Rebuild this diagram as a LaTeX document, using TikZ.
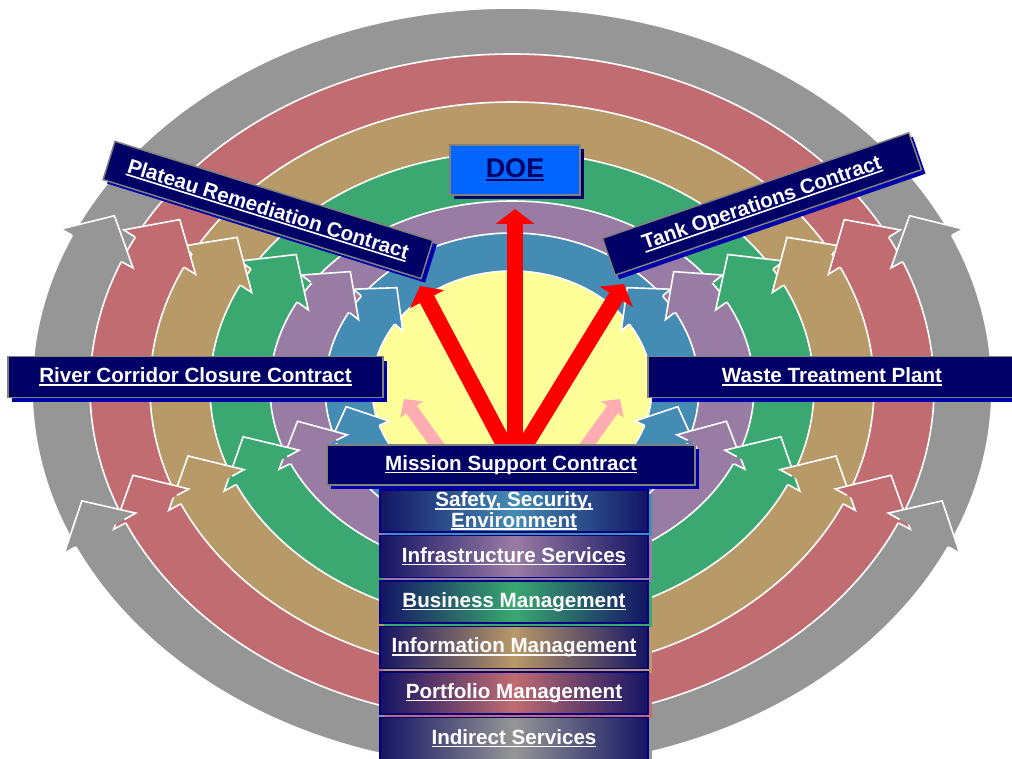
\documentclass[tikz,border=0pt]{standalone}
\usepackage{fontspec}
\setmainfont{Liberation Sans}
\usetikzlibrary{arrows.meta,shadows}
\definecolor{cgray}{RGB}{150,150,150}
\definecolor{cred}{RGB}{192,108,113}
\definecolor{ctan}{RGB}{184,153,104}
\definecolor{cgreen}{RGB}{58,168,112}
\definecolor{cpurple}{RGB}{153,124,163}
\definecolor{cblue}{RGB}{68,140,180}
\definecolor{cyellow}{RGB}{255,255,153}
\definecolor{navy}{RGB}{0,0,102}
\definecolor{navyg}{RGB}{20,20,100}
\definecolor{navyline}{RGB}{0,0,128}
\definecolor{shadowblue}{RGB}{0,0,170}
\definecolor{doeblue}{RGB}{0,102,255}
\definecolor{bordergray}{RGB}{128,128,128}
\definecolor{pinkc}{RGB}{255,172,178}
\newcommand{\ulin}[1]{\setbox0=\hbox{#1}\rlap{\copy0}\rule[-3pt]{\wd0}{1.6pt}}
\newcommand{\rhead}[7]{%
  \pgfmathsetmacro\rhA{(#2+#4)/2}%
  \pgfmathsetmacro\rhB{(#3+#5)/2}%
  \pgfmathsetmacro\rhPx{512+\rhA*cos(#6)}%
  \pgfmathsetmacro\rhPy{388-\rhB*sin(#6)}%
  \pgfmathsetmacro\rhTx{-(#7)*\rhA/100*sin(#6)}%
  \pgfmathsetmacro\rhTy{-(#7)*\rhB/100*cos(#6)}%
  \pgfmathsetmacro\rhL{veclen(\rhTx,\rhTy)}%
  \pgfmathsetmacro\rhUx{\rhTx/\rhL}%
  \pgfmathsetmacro\rhUy{\rhTy/\rhL}%
  \pgfmathsetmacro\rhW{veclen((#2-#4)*cos(#6),(#3-#5)*sin(#6))}%
  \coordinate (hT) at ({\rhPx+0.66*\rhW*\rhUx},{\rhPy+0.66*\rhW*\rhUy});
  \coordinate (hB1) at ({\rhPx-0.73*\rhW*\rhUy},{\rhPy+0.73*\rhW*\rhUx});
  \coordinate (hB2) at ({\rhPx+0.73*\rhW*\rhUy},{\rhPy-0.73*\rhW*\rhUx});
  \coordinate (hE1) at ({\rhPx-0.5*\rhW*\rhUy},{\rhPy+0.5*\rhW*\rhUx});
  \coordinate (hE2) at ({\rhPx+0.5*\rhW*\rhUy},{\rhPy-0.5*\rhW*\rhUx});
  \fill[#1] (hE1) -- (hB1) -- (hT) -- (hB2) -- (hE2) -- cycle;
  \draw[ringline, line join=miter] (hE1) -- (hB1) -- (hT) -- (hB2) -- (hE2);
}
\begin{document}
\begin{tikzpicture}[x=1pt,y=-1pt,
  ringline/.style={draw=white, line width=1.6pt},
  basebox/.style={inner sep=0pt, font=\bfseries\fontsize{20.6}{18}\selectfont, text=white, align=center},
  navybox/.style={basebox, fill=navy, draw=bordergray, line width=1.5pt, minimum height=41pt,
    drop shadow={shadow xshift=4pt, shadow yshift=-4pt, fill=shadowblue, opacity=1}},
  stackbox/.style={basebox, draw=navyline, line width=1.2pt, left color=navyg, right color=navyg, middle color=#1,
    minimum width=268pt, minimum height=42pt,
    drop shadow={shadow xshift=4pt, shadow yshift=-4pt, fill=#1, opacity=1}},
  redarrow/.style={draw=red, line width=16pt, -{Triangle[width=38pt,length=15pt]}},
  pinkarrow/.style={draw=pinkc, line width=13pt, -{Triangle[width=27pt,length=13pt]}}
]
\useasboundingbox (0,0) rectangle (1012,759);
% rings
\foreach \c/\a/\b in {cgray/480/380, cred/422/334, ctan/362/286, cgreen/302/236, cpurple/242/187, cblue/187/155, cyellow/140/117}
  \filldraw[fill=\c, ringline] (512,388) ellipse [x radius=\a, y radius=\b];
% arrow heads of the rings
\foreach \c/\ao/\bo/\ai/\bi/\tul/\tur/\tll/\tlr in {
  cblue/187/155/140/117/145/35/200/340,
  cpurple/242/187/187/155/148/32/202/338,
  cgreen/302/236/242/187/151/29/203/337,
  ctan/362/286/302/236/153/27/203/337,
  cred/422/334/362/286/154/26/203/337,
  cgray/480/380/422/334/157/23/204/336}
{
  \rhead{\c}{\ao}{\bo}{\ai}{\bi}{\tul}{-1}
  \rhead{\c}{\ao}{\bo}{\ai}{\bi}{\tur}{1}
  \rhead{\c}{\ao}{\bo}{\ai}{\bi}{\tll}{-1}
  \rhead{\c}{\ao}{\bo}{\ai}{\bi}{\tlr}{1}
}
% arrows from mission support
\coordinate (pL0) at (442,452);
\coordinate (pL1) at (404,399);
\coordinate (pR0) at (582,452);
\coordinate (pR1) at (620,399);
\draw[pinkarrow] (pL0) -- (pL1);
\draw[pinkarrow] (pR0) -- (pR1);
\coordinate (aL0) at (508,452);
\coordinate (aL1) at (420,286);
\coordinate (aC0) at (515,452);
\coordinate (aC1) at (515,209);
\coordinate (aR0) at (521,452);
\coordinate (aR1) at (624,284);
\draw[redarrow] (aL0) -- (aL1);
\draw[redarrow] (aR0) -- (aR1);
\draw[redarrow] (aC0) -- (aC1);
% boxes
\node[basebox, fill=doeblue, draw=bordergray, line width=1.5pt, minimum width=130pt, minimum height=50pt,
  text=navy, font=\bfseries\fontsize{27}{30}\selectfont,
  drop shadow={shadow xshift=4pt, shadow yshift=-4pt, fill=navy, opacity=1}] (doe) at (515,170) {\ulin{DOE}};
\node[navybox, minimum width=333pt, minimum height=40pt, rotate=-17.3] (prc) at (268,210) {\ulin{Plateau Remediation Contract}};
\node[navybox, minimum width=324pt, minimum height=39pt, rotate=19] (toc) at (762,204) {\ulin{Tank Operations Contract}};
\node[navybox, minimum width=375pt] (rcc) at (195.5,377) {\ulin{River Corridor Closure Contract}};
\node[navybox, minimum width=368pt] (wtp) at (832,377) {\ulin{Waste Treatment Plant}};
\node[stackbox=cblue] (sse) at (514,511) {\ulin{Safety, Security,}\\\ulin{Environment}};
\node[stackbox=cpurple] (ifs) at (514,556.5) {\ulin{Infrastructure Services}};
\node[stackbox=cgreen] (bm) at (514,602) {\ulin{Business Management}};
\node[stackbox=ctan] (im) at (514,647.5) {\ulin{Information Management}};
\node[stackbox=cred] (pm) at (514,693) {\ulin{Portfolio Management}};
\node[stackbox=cgray] (is) at (514,738.5) {\ulin{Indirect Services}};
\node[navybox, minimum width=368pt, minimum height=40pt] (msc) at (511,465) {\ulin{Mission Support Contract}};
\end{tikzpicture}
\end{document}
